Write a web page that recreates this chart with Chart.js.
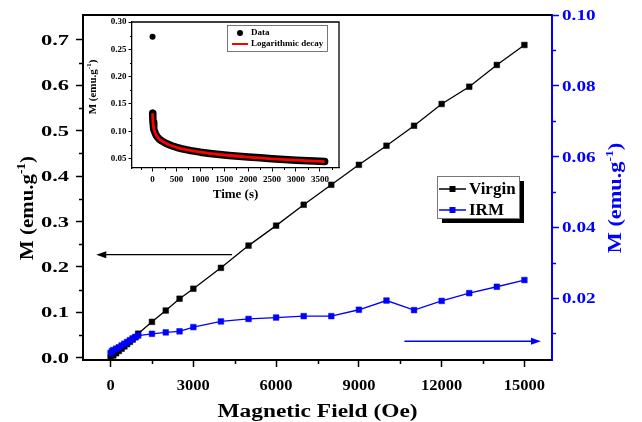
<!DOCTYPE html>
<html><head><meta charset="utf-8">
<script src="https://cdn.jsdelivr.net/npm/chart.js@4.4.1/dist/chart.umd.min.js"></script>
<style>
html,body{margin:0;padding:0;background:#fff;}
#wrap{position:relative;width:642px;height:422px;overflow:hidden;}
#main{position:absolute;left:0;top:0;}
#inset{position:absolute;left:80px;top:14px;}
</style></head><body>
<div id="wrap"><canvas id="main" width="642" height="422"></canvas><canvas id="inset" width="268" height="196"></canvas></div>
<script>
// ---------- main chart data ----------
const fieldVirgin = [0,100,200,300,400,500,600,700,800,900,1000,1500,2000,2500,3000,4000,5000,6000,7000,8000,9000,10000,11000,12000,13000,14000,15000];
const virginM     = [0.000,0.005,0.010,0.015,0.020,0.025,0.030,0.035,0.040,0.045,0.053,0.079,0.104,0.130,0.152,0.198,0.247,0.291,0.337,0.381,0.425,0.467,0.511,0.559,0.597,0.645,0.689];
const fieldIRM = [0,50,100,200,300,400,500,600,700,800,900,1000,1500,2000,2500,3000,4000,5000,6000,7000,8000,9000,10000,11000,12000,13000,14000,15000];
const irmM     = [0.0045,0.0050,0.0053,0.0057,0.0061,0.0066,0.0071,0.0076,0.0081,0.0086,0.0090,0.0094,0.0099,0.0103,0.0106,0.0118,0.0134,0.0141,0.0145,0.0149,0.0149,0.0167,0.0193,0.0166,0.0192,0.0214,0.0232,0.0251];
const xTicks  = [0,3000,6000,9000,12000,15000];
const yTicks  = [0.0,0.1,0.2,0.3,0.4,0.5,0.6,0.7];
const y1Ticks = [0.02,0.04,0.06,0.08,0.10];
const seriesLabels = ['Virgin','IRM'];

// ---------- inset data ----------
const decayTime = [0,2,5,10,20,30,45,60,80,100,130,160,200,250,300,400,500,600,700,800,900,1000,1200,1400,1600,1800,2000,2250,2500,2750,3000,3250,3500,3600];
const decayM    = [0.273,0.133,0.124,0.116,0.108,0.1035,0.0990,0.0955,0.0920,0.0895,0.0865,0.0842,0.0818,0.0792,0.0770,0.0734,0.0705,0.0682,0.0662,0.0645,0.0630,0.0616,0.0593,0.0573,0.0556,0.0541,0.0527,0.0512,0.0495,0.0482,0.0470,0.0459,0.0448,0.0444];
const fitTime = [2,5,10,20,40,70,100,150,200,300,400,500,700,1000,1400,2000,2500,3000,3600];
const fitM    = [0.133,0.124,0.116,0.108,0.1005,0.0935,0.0895,0.0848,0.0818,0.0770,0.0734,0.0705,0.0662,0.0616,0.0573,0.0527,0.0495,0.0470,0.0444];
const insetXTicks = [0,500,1000,1500,2000,2500,3000,3500];
const insetYTicks = [0.05,0.10,0.15,0.20,0.25,0.30];
const insetLabels = ['Data','Logarithmic decay'];

const SERIF = "'Liberation Serif','Times New Roman',serif";
const BLUE = '#0000ff';

// text helper: (cx,cy) is the centre of the capital-letter band
function drawTitle(ctx, cx, cy, rot, size, sx, sy, color, base, sup, tail){
  ctx.save(); ctx.translate(cx, cy); ctx.rotate(rot); ctx.scale(sx, sy);
  ctx.fillStyle = color; ctx.textBaseline = 'alphabetic'; ctx.textAlign = 'left';
  const f1 = 'bold ' + size + 'px ' + SERIF, f2 = 'bold ' + Math.round(size*0.62) + 'px ' + SERIF;
  ctx.font = f1; const w1 = ctx.measureText(base).width; const w3 = tail ? ctx.measureText(tail).width : 0;
  ctx.font = f2; const w2 = sup ? ctx.measureText(sup).width : 0;
  let x = -(w1+w2+w3)/2; const yb = size*0.331;
  ctx.font = f1; ctx.fillText(base, x, yb); x += w1;
  if (sup){ ctx.font = f2; ctx.fillText(sup, x, yb - size*0.42); x += w2; }
  if (tail){ ctx.font = f1; ctx.fillText(tail, x, yb); }
  ctx.restore();
}
function drawLabel(ctx, text, x, y, align, size, sx, color){
  ctx.save(); ctx.translate(x, y); ctx.scale(sx, 1);
  ctx.fillStyle = color; ctx.font = 'bold ' + size + 'px ' + SERIF;
  ctx.textAlign = align; ctx.textBaseline = 'alphabetic';
  ctx.fillText(text, 0, size*0.335);
  ctx.restore();
}
function minorTicks(ctx, scale, values, side, len, color, width){
  ctx.save(); ctx.strokeStyle = color; ctx.lineWidth = width; ctx.beginPath();
  values.forEach(v=>{
    if (v < scale.min || v > scale.max) return;
    const p = Math.round(scale.getPixelForValue(v)) + 0.5;
    if (side==='bottom'){ ctx.moveTo(p, scale.top); ctx.lineTo(p, scale.top+len); }
    if (side==='left'){ ctx.moveTo(scale.right, p); ctx.lineTo(scale.right-len, p); }
    if (side==='right'){ ctx.moveTo(scale.left, p); ctx.lineTo(scale.left+len, p); }
  });
  ctx.stroke(); ctx.restore();
}
function mids(arr){ const r=[]; for(let i=0;i<arr.length-1;i++) r.push((arr[i]+arr[i+1])/2); return r; }
function arrow(ctx, x0, y0, x1, y1, color){
  ctx.save(); ctx.strokeStyle=color; ctx.fillStyle=color; ctx.lineWidth=1.3;
  const dir = Math.sign(x1-x0);
  ctx.beginPath(); ctx.moveTo(x0,y0); ctx.lineTo(x1-dir*8,y1); ctx.stroke();
  ctx.beginPath(); ctx.moveTo(x1,y1); ctx.lineTo(x1-dir*10,y1-3.5); ctx.lineTo(x1-dir*10,y1+3.5); ctx.closePath(); ctx.fill();
  ctx.restore();
}

const mainDecor = {
  id:'mainDecor',
  afterDraw(chart){
    const {ctx, chartArea:a, scales} = chart;
    ctx.save();
    // top frame
    ctx.strokeStyle='#000'; ctx.lineWidth=2;
    ctx.beginPath(); ctx.moveTo(a.left-1, a.top); ctx.lineTo(a.right, a.top); ctx.stroke();
    // minor ticks
    minorTicks(ctx, scales.x, mids(xTicks), 'bottom', 4, '#000', 1.5);
    minorTicks(ctx, scales.y, mids(yTicks), 'left', 4, '#000', 1.5);
    minorTicks(ctx, scales.y1, [0.01].concat(mids(y1Ticks)), 'right', 4, BLUE, 1.5);
    // tick labels
    xTicks.forEach(v=> drawLabel(ctx, String(v), scales.x.getPixelForValue(v), 385, 'center', 15, 1.1, '#000'));
    yTicks.forEach(v=> drawLabel(ctx, v.toFixed(1), 69, scales.y.getPixelForValue(v), 'right', 15, 1.5, '#000'));
    y1Ticks.forEach(v=> drawLabel(ctx, v.toFixed(2), 562, scales.y1.getPixelForValue(v), 'left', 15, 1.28, BLUE));
    // arrows (annotation, positioned through the scales)
    arrow(ctx, scales.x.getPixelForValue(4400), scales.y.getPixelForValue(0.227), scales.x.getPixelForValue(-520), scales.y.getPixelForValue(0.227), '#000');
    arrow(ctx, scales.x.getPixelForValue(10650), scales.y1.getPixelForValue(0.0078), scales.x.getPixelForValue(15600), scales.y1.getPixelForValue(0.0078), BLUE);
    // legend
    const lx = 437, ly = 176, lw = 82, lh = 42;
    ctx.fillStyle='#000'; ctx.fillRect(lx+5, ly+5, lw, lh);
    ctx.fillStyle='#fff'; ctx.fillRect(lx, ly, lw, lh);
    ctx.strokeStyle='#777'; ctx.lineWidth=1; ctx.strokeRect(lx+0.5, ly+0.5, lw, lh);
    chart.data.datasets.forEach((ds, i)=>{
      const yy = ly + 13 + i*21;
      ctx.strokeStyle = ds.borderColor; ctx.lineWidth = 1.5;
      ctx.beginPath(); ctx.moveTo(lx+2, yy); ctx.lineTo(lx+29, yy); ctx.stroke();
      ctx.fillStyle = ds.borderColor; ctx.fillRect(lx+15.5-3, yy-3, 6, 6);
      ctx.fillStyle = '#000'; ctx.font = 'bold 17px ' + SERIF; ctx.textBaseline='middle'; ctx.textAlign='left';
      ctx.fillText(ds.label, lx+32, yy+1);
    });
    // axis titles
    drawTitle(ctx, (a.left+a.right)/2, 411.5, 0, 18, 1.3, 1, '#000', 'Magnetic Field (Oe)');
    drawTitle(ctx, 27, 208, -Math.PI/2, 19, 1.1, 1, '#000', 'M (emu.g', '-1', ')');
    drawTitle(ctx, 615, 198, -Math.PI/2, 18, 1.24, 1, BLUE, 'M (emu.g', '-1', ')');
    ctx.restore();
  }
};

const hidden = 'rgba(0,0,0,0)';
const tickFont = {family: SERIF, size: 15, weight: 'bold'};
new Chart(document.getElementById('main'), {
  type:'line',
  data:{datasets:[
    {label:seriesLabels[0], data: fieldVirgin.map((x,i)=>({x:x, y:virginM[i]})), yAxisID:'y',
     borderColor:'#000', backgroundColor:'#000', borderWidth:1.3, pointStyle:'rect', pointRadius:4, pointBorderWidth:0.5, order:1},
    {label:seriesLabels[1], data: fieldIRM.map((x,i)=>({x:x, y:irmM[i]})), yAxisID:'y1',
     borderColor:BLUE, backgroundColor:BLUE, borderWidth:1.3, pointStyle:'rect', pointRadius:4, pointBorderWidth:0.5, order:0}
  ]},
  options:{
    responsive:false, animation:false, devicePixelRatio:1,
    layout:{padding:{top:15,left:0,right:0,bottom:0}},
    plugins:{legend:{display:false}, tooltip:{enabled:false}},
    scales:{
      x:{type:'linear', min:-1000, max:16000,
         afterBuildTicks: s=>{ s.ticks = xTicks.map(v=>({value:v})); },
         afterFit: s=>{ s.height = 62; },
         grid:{drawOnChartArea:false, drawTicks:true, tickLength:7, color:'#000', tickWidth:1.5},
         border:{display:true, color:'#000', width:2},
         ticks:{color:hidden, font:tickFont, padding:3, maxRotation:0, autoSkip:false, callback:v=>String(v)}},
      y:{type:'linear', position:'left', min:-0.005, max:0.755,
         afterBuildTicks: s=>{ s.ticks = yTicks.map(v=>({value:v})); },
         afterFit: s=>{ s.width = 83; },
         grid:{drawOnChartArea:false, drawTicks:true, tickLength:7, color:'#000', tickWidth:1.5},
         border:{display:true, color:'#000', width:2},
         ticks:{color:hidden, font:tickFont, padding:4, autoSkip:false, callback:v=>v.toFixed(1)}},
      y1:{type:'linear', position:'right', min:0.0025, max:0.10,
         afterBuildTicks: s=>{ s.ticks = y1Ticks.map(v=>({value:v})); },
         afterFit: s=>{ s.width = 90; },
         grid:{drawOnChartArea:false, drawTicks:true, tickLength:7, color:BLUE, tickWidth:1.5},
         border:{display:true, color:BLUE, width:2},
         ticks:{color:hidden, font:tickFont, padding:4, autoSkip:false, callback:v=>v.toFixed(2)}}
    }
  },
  plugins:[mainDecor]
});

// ---------- inset ----------
const insetDecor = {
  id:'insetDecor',
  afterDraw(chart){
    const {ctx, chartArea:a, scales} = chart;
    ctx.save();
    ctx.strokeStyle='#000'; ctx.lineWidth=1.3;
    ctx.beginPath(); ctx.moveTo(a.left, a.top); ctx.lineTo(a.right, a.top); ctx.lineTo(a.right, a.bottom); ctx.stroke();
    const xm = []; for (let i=0;i<insetXTicks.length;i++){ xm.push(insetXTicks[i]+250); } xm.push(-250);
    minorTicks(ctx, scales.x, xm, 'bottom', 2, '#000', 1);
    minorTicks(ctx, scales.y, mids(insetYTicks).concat([0.025]), 'left', 2, '#000', 1);
    // legend
    const lx = 147, ly = 11, lw = 100, lh = 26;
    ctx.fillStyle='#fff'; ctx.fillRect(lx, ly, lw, lh);
    ctx.strokeStyle='#555'; ctx.lineWidth=0.8; ctx.strokeRect(lx+0.5, ly+0.5, lw, lh);
    ctx.fillStyle='#000'; ctx.beginPath(); ctx.arc(lx+13, ly+8, 3, 0, Math.PI*2); ctx.fill();
    ctx.strokeStyle='#ff0000'; ctx.lineWidth=2; ctx.beginPath(); ctx.moveTo(lx+5, ly+19); ctx.lineTo(lx+21, ly+19); ctx.stroke();
    ctx.fillStyle='#000'; ctx.font='bold 9px '+SERIF; ctx.textBaseline='middle'; ctx.textAlign='left';
    ctx.fillText(chart.data.datasets[0].label, lx+24, ly+8);
    ctx.fillText(chart.data.datasets[1].label, lx+24, ly+19);
    drawTitle(ctx, (a.left+a.right)/2, 180, 0, 13, 1, 1, '#000', 'Time (s)');
    drawTitle(ctx, 12, (a.top+a.bottom)/2 - 8, -Math.PI/2, 11, 1, 1, '#000', 'M (emu.g', '-1', ')');
    ctx.restore();
  }
};
const insetFont = {family: SERIF, size: 9, weight: 'bold'};
new Chart(document.getElementById('inset'), {
  type:'line',
  data:{datasets:[
    {label:insetLabels[0], data: decayTime.map((x,i)=>({x:x, y:decayM[i]})),
     borderColor:'#000', backgroundColor:'#000', borderWidth:7.5, borderCapStyle:'round', borderJoinStyle:'round',
     pointRadius:3, pointBorderWidth:0, order:1,
     segment:{borderColor: c => c.p0DataIndex === 0 ? 'rgba(0,0,0,0)' : '#000'}},
    {label:insetLabels[1], data: fitTime.map((x,i)=>({x:x, y:fitM[i]})),
     borderColor:'#ff0000', borderWidth:2.8, pointRadius:0, cubicInterpolationMode:'monotone', order:0}
  ]},
  options:{
    responsive:false, animation:false, devicePixelRatio:1,
    layout:{padding:{top:8,right:9,left:0,bottom:0}},
    plugins:{legend:{display:false}, tooltip:{enabled:false}},
    scales:{
      x:{type:'linear', min:-430, max:3900,
         afterBuildTicks: s=>{ s.ticks = insetXTicks.map(v=>({value:v})); },
         afterFit: s=>{ s.height = 42; },
         grid:{drawOnChartArea:false, drawTicks:true, tickLength:3.5, color:'#000', tickWidth:1},
         border:{display:true, color:'#000', width:1.3},
         ticks:{color:'#000', font:insetFont, padding:3, maxRotation:0, autoSkip:false, callback:v=>String(v)}},
      y:{type:'linear', min:0.0326, max:0.30,
         afterBuildTicks: s=>{ s.ticks = insetYTicks.map(v=>({value:v})); },
         afterFit: s=>{ s.width = 52; },
         grid:{drawOnChartArea:false, drawTicks:true, tickLength:3.5, color:'#000', tickWidth:1},
         border:{display:true, color:'#000', width:1.3},
         ticks:{color:'#000', font:insetFont, padding:2, autoSkip:false, callback:v=>v.toFixed(2)}}
    }
  },
  plugins:[insetDecor]
});
</script>
</body></html>
